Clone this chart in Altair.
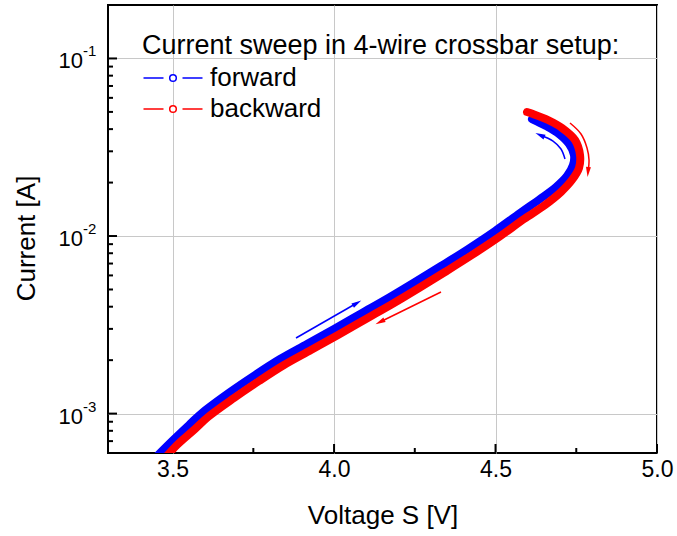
import altair as alt
import pandas as pd

# ---------------- data ----------------
# forward sweep (blue), low -> high current
fwd_v = [3.4301, 3.4610, 3.5013, 3.5539, 3.5942, 3.6778, 3.7552, 3.8326, 3.9162, 3.9998,
         4.0865, 4.1732, 4.2506, 4.3311, 4.4148, 4.4984, 4.5758, 4.6377, 4.6873, 4.7213,
         4.7399, 4.7430, 4.7275, 4.6965, 4.6563, 4.6129]
fwd_i = [5.20e-4, 6.00e-4, 7.10e-4, 8.74e-4, 1.021e-3, 1.324e-3, 1.650e-3, 2.030e-3,
         2.466e-3, 2.996e-3, 3.686e-3, 4.536e-3, 5.510e-3, 6.781e-3, 8.452e-3, 1.0674e-2,
         1.348e-2, 1.616e-2, 1.888e-2, 2.178e-2, 2.512e-2, 2.860e-2, 3.298e-2, 3.754e-2,
         4.165e-2, 4.560e-2]
# backward sweep (red), high -> low current
bwd_v = [4.5975, 4.6160, 4.6625, 4.7058, 4.7461, 4.7616, 4.7585, 4.7368, 4.7027, 4.6532,
         4.5882, 4.5108, 4.4271, 4.3435, 4.2630, 4.1856, 4.0989, 4.0122, 3.9286, 3.8450,
         3.7676, 3.6902, 3.6097, 3.5694, 3.5137, 3.4765, 3.4455]
bwd_i = [4.994e-2, 4.866e-2, 4.501e-2, 4.058e-2, 3.473e-2, 2.860e-2, 2.416e-2, 2.068e-2,
         1.770e-2, 1.4955e-2, 1.247e-2, 9.875e-3, 7.820e-3, 6.272e-3, 5.097e-3, 4.196e-3,
         3.410e-3, 2.771e-3, 2.281e-3, 1.878e-3, 1.526e-3, 1.224e-3, 9.57e-4, 8.19e-4,
         6.656e-4, 5.623e-4, 4.876e-4]

# annotation arrows (data coordinates)
arrow_blue_id = ["a", "a", "c", "c", "c", "c"]
arrow_blue_v = [3.8822, 4.0710, 4.7151, 4.7027, 4.6780, 4.6377]
arrow_blue_i = [2.665e-3, 4.196e-3, 2.715e-2, 3.091e-2, 3.428e-2, 3.706e-2]
arrow_red_id = ["b", "b", "d", "d", "d", "d", "d"]
arrow_red_v = [4.3311, 4.1423, 4.7306, 4.7647, 4.7833, 4.7895, 4.7864]
arrow_red_i = [4.838e-3, 3.280e-3, 4.330e-2, 3.754e-2, 3.131e-2, 2.680e-2, 2.294e-2]
head_blue_v = [4.0710, 4.6377]
head_blue_i = [4.196e-3, 3.706e-2]
head_blue_angle = [59, 295]
head_red_v = [4.1423, 4.7864]
head_red_i = [3.280e-3, 2.294e-2]
head_red_angle = [244, 185]

# axis ticks
x_major = [3.5, 4.0, 4.5, 5.0]
x_minor = [3.75, 4.25, 4.75]
y_major = [0.1, 0.01, 0.001]
y_exponents = ["-1", "-2", "-3"]
y_minor_mult = [2, 3, 4, 5, 6, 7, 8, 9]
y_minor_dec = [1e-4, 1e-3, 1e-2, 1e-1]

series = ["forward", "backward"]
colors = ["#0000ff", "#ff0000"]

# ---------------- tables ----------------
df_f = pd.DataFrame({"V": fwd_v, "I": fwd_i, "series": "forward", "k": range(len(fwd_v))})
df_b = pd.DataFrame({"V": bwd_v, "I": bwd_i, "series": "backward", "k": range(len(bwd_v))})
df_ab = pd.DataFrame({"id": arrow_blue_id, "V": arrow_blue_v, "I": arrow_blue_i, "k": range(len(arrow_blue_v))})
df_ar = pd.DataFrame({"id": arrow_red_id, "V": arrow_red_v, "I": arrow_red_i, "k": range(len(arrow_red_v))})
df_hb = pd.DataFrame({"V": head_blue_v, "I": head_blue_i, "ang": head_blue_angle})
df_hr = pd.DataFrame({"V": head_red_v, "I": head_red_i, "ang": head_red_angle})
df_xmaj = pd.DataFrame({"V": x_major})
df_xmin = pd.DataFrame({"V": x_minor})
df_ymaj = pd.DataFrame({"I": y_major, "base": "10", "exp": y_exponents})
ymin_vals = [m * d for d in y_minor_dec for m in y_minor_mult if 6e-4 <= m * d <= 0.2]
df_ymin = pd.DataFrame({"I": ymin_vals})

FONT = "Liberation Sans"

xs = alt.Scale(domain=[3.3, 5.0], nice=False, zero=False)
ys = alt.Scale(type="log", domain=[6e-4, 0.2], nice=False)

X = alt.X("V:Q", scale=xs, axis=alt.Axis(
    values=x_major, format=".1f", labelFontSize=23, labelColor="black", labelPadding=5,
    labelFlush=False, labelOverlap=False, ticks=False, domain=False, grid=True,
    gridColor="#c8c8c8", gridWidth=1, title="Voltage S [V]", titleFontSize=26,
    titleFontWeight="normal", titleColor="black", titleY=62, titleBaseline="middle"))
Y = alt.Y("I:Q", scale=ys, axis=alt.Axis(
    values=y_major, labels=False, ticks=False, domain=False, grid=True,
    gridColor="#c8c8c8", gridWidth=1, title="Current [A]", titleFontSize=26,
    titleFontWeight="normal", titleColor="black", titleX=-82, titleY=233,
    titleBaseline="middle"))

sym_path = ("M-2.95,0L-0.95,0M0.95,0L2.95,0"
            "M0.33,0A0.33,0.33,0,1,1,-0.33,0A0.33,0.33,0,1,1,0.33,0")
legend = alt.Legend(
    title="Current sweep in 4-wire crossbar setup:", orient="none", legendX=34, legendY=28,
    titleFontSize=27, titleFontWeight="normal", titleColor="black", titleLimit=1000,
    titlePadding=5, labelFontSize=26, labelColor="black", labelLimit=500, labelOffset=24,
    symbolType=sym_path, symbolSize=400, symbolStrokeWidth=1.5, symbolOffset=18,
    symbolFillColor="white", rowPadding=5, padding=0)
C = alt.Color("series:N", scale=alt.Scale(domain=series, range=colors), legend=legend)

line_f = alt.Chart(df_f).mark_line(strokeWidth=8, strokeCap="round", strokeJoin="round",
                                   interpolate="catmull-rom", clip=True).encode(
    x=X, y=Y, color=C, order="k:Q")
line_b = alt.Chart(df_b).mark_line(strokeWidth=8, strokeCap="round", strokeJoin="round",
                                   interpolate="catmull-rom", clip=True).encode(
    x=X, y=Y, color=C, order="k:Q")

arr_b = alt.Chart(df_ab).mark_line(color="#0000ff", strokeWidth=1.5, interpolate="catmull-rom").encode(
    x=X, y=Y, detail="id:N", order="k:Q")
arr_r = alt.Chart(df_ar).mark_line(color="#ff0000", strokeWidth=1.5, interpolate="catmull-rom").encode(
    x=X, y=Y, detail="id:N", order="k:Q")
head_shape = "M0,-1L0.5,1L-0.5,1Z"
hd_b = alt.Chart(df_hb).mark_point(shape=head_shape, size=100, filled=True, color="#0000ff",
                                   opacity=1).encode(x=X, y=Y, angle=alt.Angle("ang:Q", scale=None))
hd_r = alt.Chart(df_hr).mark_point(shape=head_shape, size=100, filled=True, color="#ff0000",
                                   opacity=1).encode(x=X, y=Y, angle=alt.Angle("ang:Q", scale=None))

H = 448
xt_maj = alt.Chart(df_xmaj).mark_rule(color="black", strokeWidth=2).encode(
    x=X, y=alt.value(H), y2=alt.value(H - 9))
xt_min = alt.Chart(df_xmin).mark_rule(color="black", strokeWidth=2).encode(
    x=X, y=alt.value(H), y2=alt.value(H - 5))
yt_maj = alt.Chart(df_ymaj).mark_rule(color="black", strokeWidth=2).encode(
    y=Y, x=alt.value(0), x2=alt.value(9))
yt_min = alt.Chart(df_ymin).mark_rule(color="black", strokeWidth=2).encode(
    y=Y, x=alt.value(0), x2=alt.value(5))

lab_base = alt.Chart(df_ymaj).mark_text(align="right", baseline="middle", fontSize=22,
                                        dy=3, color="black", font=FONT).encode(
    y=Y, x=alt.value(-25), text="base:N")
lab_exp = alt.Chart(df_ymaj).mark_text(align="left", baseline="middle", fontSize=15,
                                       dy=-7, color="black", font=FONT).encode(
    y=Y, x=alt.value(-25), text="exp:N")

chart = alt.layer(
    xt_min, xt_maj, yt_min, yt_maj, line_f, line_b, arr_b, arr_r, hd_b, hd_r, lab_base, lab_exp
).properties(
    width=549, height=448,
    autosize=alt.AutoSizeParams(type="none"),
    padding={"left": 108, "top": 5, "right": 20, "bottom": 83},
).configure(font=FONT, background="white").configure_view(stroke="black", strokeWidth=2)

chart.save("out.html", embed_options={"renderer": "svg", "actions": False})
